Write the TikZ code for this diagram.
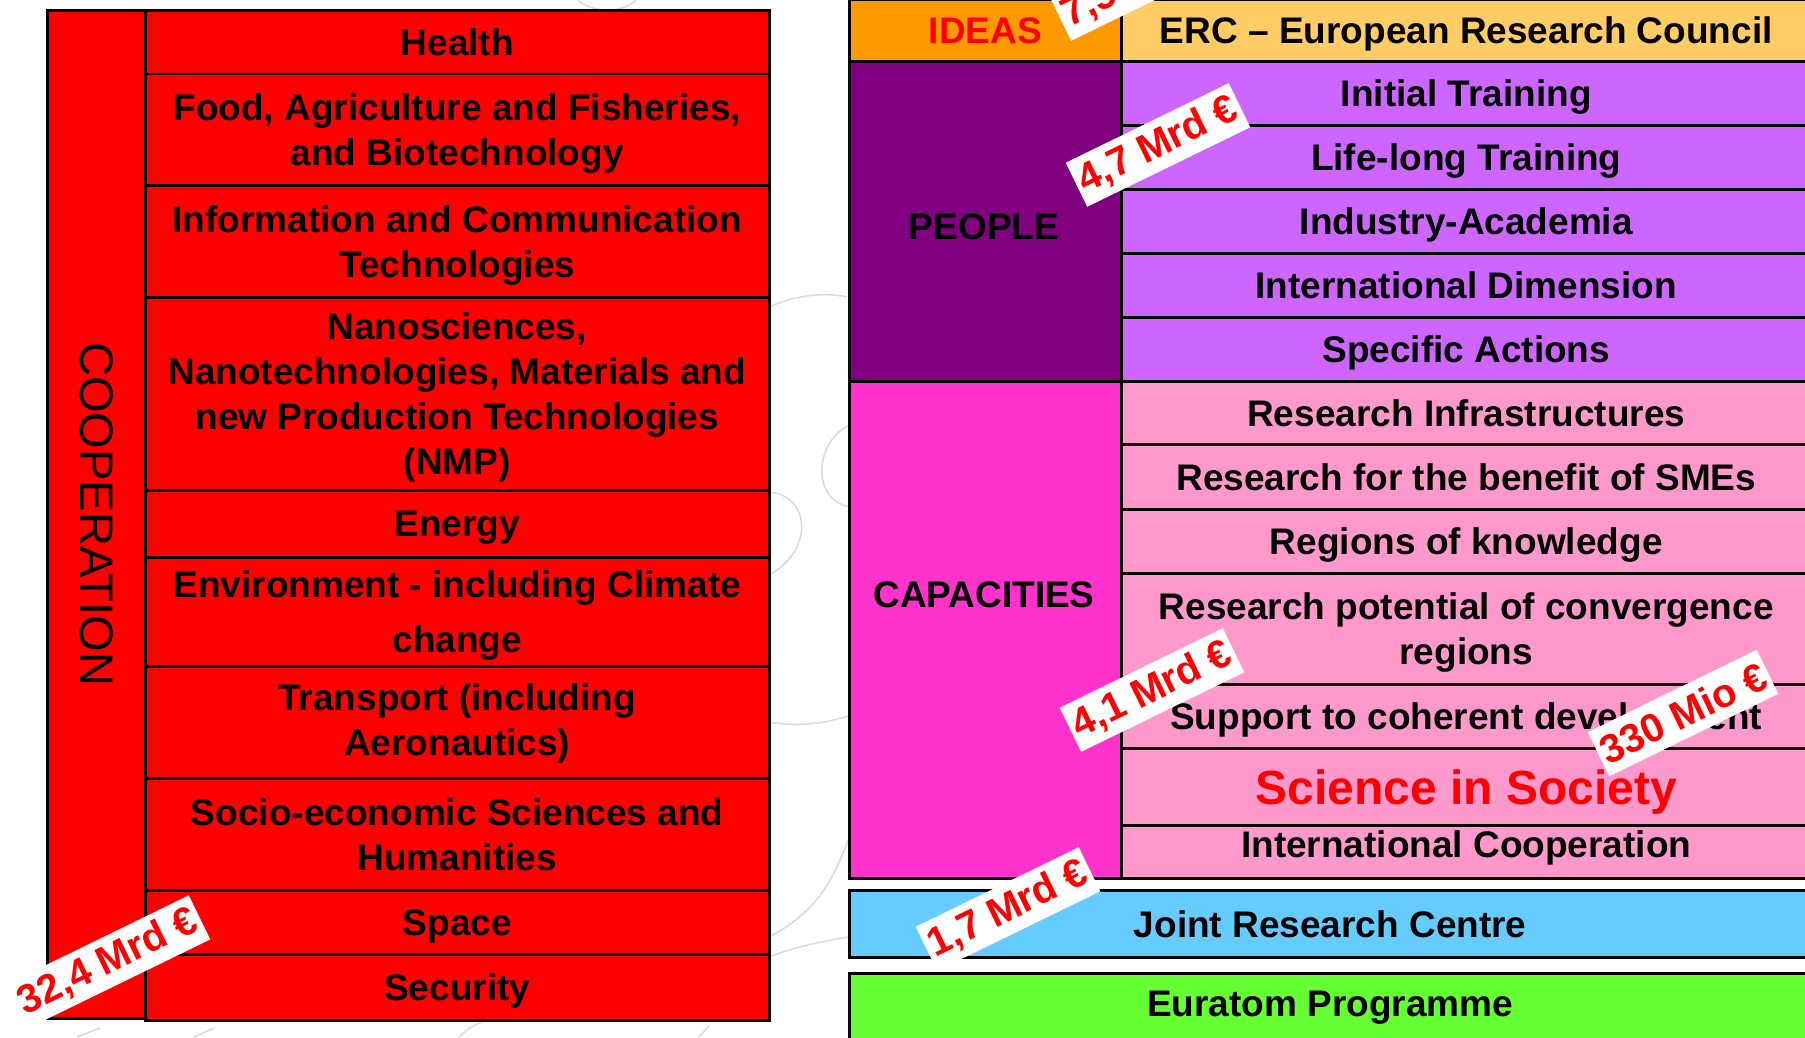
\documentclass[tikz,border=0pt]{standalone}
\usepackage{fontspec}
\setmainfont{Liberation Sans}
\definecolor{ideasorange}{HTML}{FF9900}
\definecolor{ercyellow}{HTML}{FFCC66}
\definecolor{peoplepurple}{HTML}{800080}
\definecolor{peoplelilac}{HTML}{CC66FF}
\definecolor{capmagenta}{HTML}{FF33CC}
\definecolor{cappink}{HTML}{FF99CC}
\definecolor{jrcblue}{HTML}{66CCFF}
\definecolor{euratomgreen}{HTML}{66FF33}
\begin{document}
\begin{tikzpicture}[x=1pt,y=-1pt,
  box/.style={draw=black,line width=2.5pt,anchor=north west,inner sep=0pt,align=center,text depth=0pt,font=\bfseries\fontsize{37}{45}\selectfont},
  coopbox/.style={box,fill=red,minimum width=624pt},
  peoplebox/.style={box,fill=peoplelilac,minimum width=690pt},
  capbox/.style={box,fill=cappink,minimum width=690pt},
  heading/.style={font=\bfseries\fontsize{37}{45}\selectfont},
  tag/.style={fill=white,text=red,rotate=26,inner xsep=4pt,inner ysep=0pt,minimum height=49pt,font=\bfseries\fontsize{40}{40}\selectfont},
  swirl/.style={gray!30,line width=1.5pt}]
\useasboundingbox (0,0) rectangle (1805,1037);
\clip (0,0) rectangle (1805,1037);

\draw[swirl] (769,307) .. controls (795,295) and (825,292) .. (847,297);
\draw[swirl] (850,425) .. controls (815,440) and (810,500) .. (850,507);
\draw[swirl] (769,492) .. controls (810,495) and (815,550) .. (769,575);
\draw[swirl] (769,722) .. controls (800,728) and (830,722) .. (848,716);
\draw[swirl] (769,937) .. controls (810,915) and (830,890) .. (848,840);
\draw[swirl] (769,957) .. controls (800,945) and (830,940) .. (848,937);
\draw[swirl] (576,-2) .. controls (590,14) and (625,14) .. (638,-2);
\draw[swirl] (77,1037) -- (100,1028);
\draw[swirl] (194,1037) -- (214,1028);
\draw[swirl] (459,1037) .. controls (468,1028) and (478,1022) .. (490,1020);
\draw[swirl] (699,1037) -- (709,1026);

\node[box,fill=red,minimum width=98pt,minimum height=1008pt] (cooperation) at (46,9) {};
\node[rotate=-90,font=\fontsize{47}{47}\selectfont] (cooplabel) at (cooperation.center) {COOPERATION};
\node[coopbox,minimum height=63.5pt] (health) at (144,9) {Health};
\node[coopbox,minimum height=111.5pt] (food) at (144,72.5) {Food, Agriculture and Fisheries,\\and Biotechnology};
\node[coopbox,minimum height=112pt] (ict) at (144,184) {Information and Communication\\Technologies};
\node[coopbox,minimum height=193pt,text depth=-7pt] (nmp) at (144,296) {Nanosciences,\\Nanotechnologies, Materials and\\new Production Technologies\\(NMP)};
\node[coopbox,minimum height=67pt] (energy) at (144,489) {Energy};
\node[coopbox,minimum height=109pt,text depth=-4pt,font=\bfseries\fontsize{37}{55}\selectfont] (environment) at (144,556) {Environment - including Climate\\change};
\node[coopbox,minimum height=112pt,text depth=6pt] (transport) at (144,665) {Transport (including\\Aeronautics)};
\node[coopbox,minimum height=112pt] (socio) at (144,777) {Socio-economic Sciences and\\Humanities};
\node[coopbox,minimum height=64pt] (space) at (144,889) {Space};
\node[coopbox,minimum height=66pt] (security) at (144,953) {Security};

\node[box,fill=ideasorange,text=red,minimum width=272pt,minimum height=62pt] (ideas) at (848,-2) {IDEAS};
\node[box,fill=ercyellow,minimum width=690pt,minimum height=62pt] (erc) at (1120,-2) {ERC – European Research Council};

\node[box,fill=peoplepurple,minimum width=272pt,minimum height=320pt] (people) at (848,60) {};
\node[heading] (peoplelabel) at (984,227) {PEOPLE};
\node[peoplebox,minimum height=64pt] (initial) at (1120,60) {Initial Training};
\node[peoplebox,minimum height=64pt] (lifelong) at (1120,124) {Life-long Training};
\node[peoplebox,minimum height=64pt] (industry) at (1120,188) {Industry-Academia};
\node[peoplebox,minimum height=64pt] (intdim) at (1120,252) {International Dimension};
\node[peoplebox,minimum height=64pt] (specific) at (1120,316) {Specific Actions};

\node[box,fill=capmagenta,minimum width=272pt,minimum height=497pt] (capacities) at (848,380) {};
\node[heading] (caplabel) at (984,595) {CAPACITIES};
\node[capbox,minimum height=63pt] (infra) at (1120,380) {Research Infrastructures};
\node[capbox,minimum height=65pt] (smes) at (1120,443) {Research for the benefit of SMEs};
\node[capbox,minimum height=64pt] (regions) at (1120,508) {Regions of knowledge};
\node[capbox,minimum height=111pt] (potential) at (1120,572) {Research potential of convergence\\regions};
\node[capbox,minimum height=64pt] (support) at (1120,683) {Support to coherent development};
\node[capbox,minimum height=77pt,text=red,font=\bfseries\fontsize{48}{50}\selectfont] (society) at (1120,747) {Science in Society};
\node[capbox,minimum height=53pt,text depth=15pt] (intcoop) at (1120,824) {International Cooperation};

\node[box,fill=jrcblue,minimum width=962pt,minimum height=67pt] (jrc) at (848,889) {Joint Research Centre};
\node[box,fill=euratomgreen,minimum width=962pt,minimum height=70pt,text depth=8pt] (euratom) at (848,972) {Euratom Programme};

\node[tag] (ideastag) at (1142,-21) {7,5 Mrd €};
\node[tag] (peopletag) at (1158,145) {4,7 Mrd €};
\node[tag] (captag) at (1152,690) {4,1 Mrd €};
\node[tag] (societytag) at (1683,713) {330 Mio €};
\node[tag] (jrctag) at (1008,909) {1,7 Mrd €};
\node[tag] (cooptag) at (108,962) {32,4 Mrd €};
\end{tikzpicture}
\end{document}
